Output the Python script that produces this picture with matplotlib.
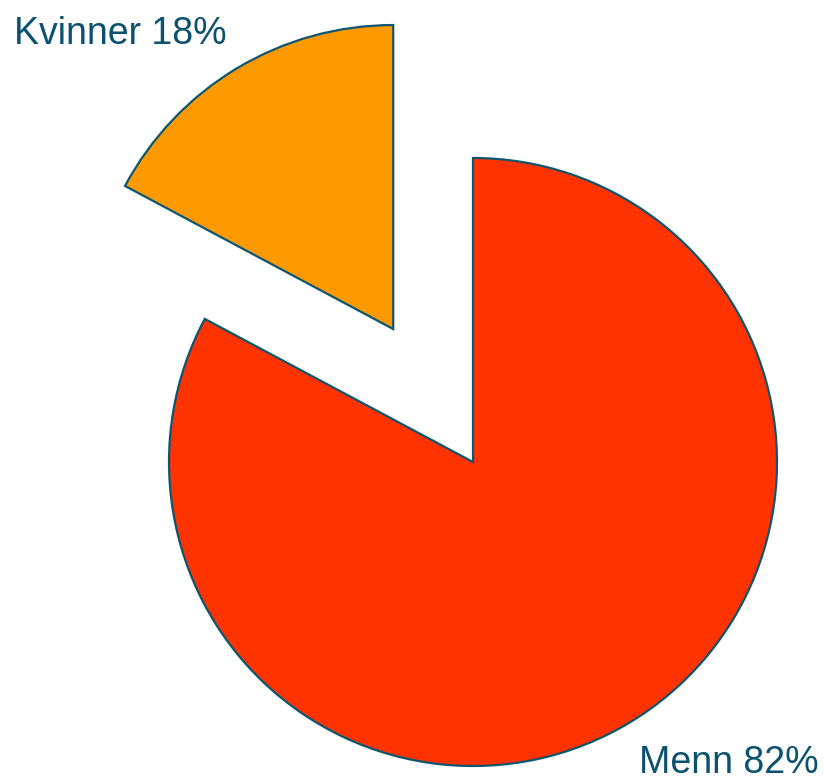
import matplotlib
matplotlib.use("Agg")
import matplotlib.pyplot as plt

# 数値データ（扇形の角度は図から読み取り、ラベルは図中の表記）
labels = ["Kvinner", "Menn"]
shares = [17.2, 82.8]
share_text = ["18%", "82%"]
colors = ["#FF9900", "#FF3300"]
explode = [0.51, 0.0]

edge = "#0E5670"      # 扇形の縁取り色
text_color = "#0C5170"

plt.rcParams["font.family"] = ["Liberation Sans", "DejaVu Sans"]

W, H = 824, 782
fig = plt.figure(figsize=(W / 100, H / 100), dpi=100)
ax = fig.add_axes([0, 0, 1, 1])

# 円の中心 (473, 462) px, 半径 304 px に合わせた座標系
cx, cy, r = 473, 462, 304
ax.pie(shares, colors=colors, explode=explode, startangle=90, counterclock=True,
       radius=1.0, wedgeprops=dict(edgecolor=edge, linewidth=1.6))
ax.set_xlim(-cx / r, (W - cx) / r)
ax.set_ylim(-(H - cy) / r, cy / r)
ax.set_aspect("auto")
ax.axis("off")

# ラベル（ピクセル位置で配置）
fig.text(14 / W, 1 - 44 / H, f"{labels[0]} {share_text[0]}", fontsize=27,
         color=text_color, ha="left", va="baseline")
fig.text(819 / W, 1 / H, f"{labels[1]} {share_text[1]}", fontsize=27,
         color=text_color, ha="right", va="bottom")

fig.savefig("out.png", dpi=100)
